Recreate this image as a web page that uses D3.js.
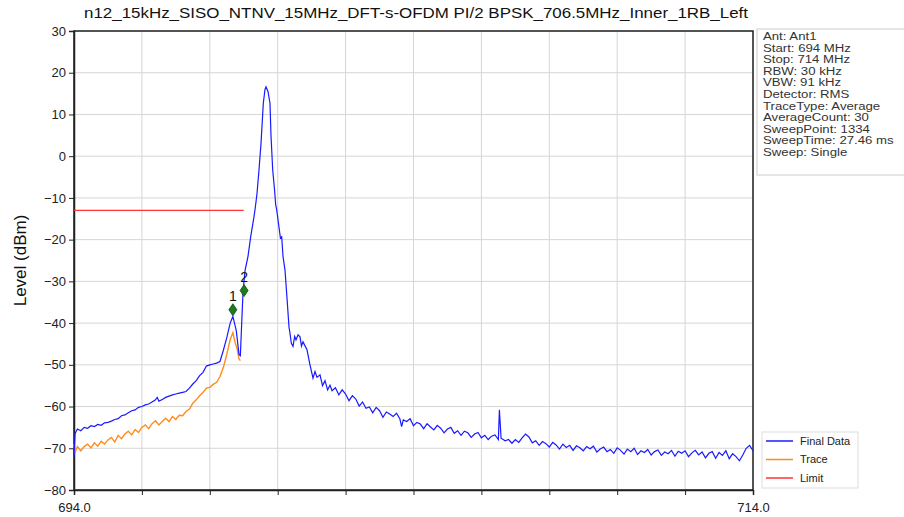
<!DOCTYPE html>
<html>
<head>
<meta charset="utf-8">
<script src="https://cdn.jsdelivr.net/npm/d3@7"></script>
<style>
  body { margin: 0; background: #fff; }
  text { font-family: "Liberation Sans", Arial, sans-serif; }
</style>
</head>
<body>
<div id="my_dataviz"></div>
<script>
var chartTitle = "n12_15kHz_SISO_NTNV_15MHz_DFT-s-OFDM PI/2 BPSK_706.5MHz_Inner_1RB_Left";

var yTicks = [30, 20, 10, 0, -10, -20, -30, -40, -50, -60, -70, -80];
var xTicks = [694, 696, 698, 700, 702, 704, 706, 708, 710, 712, 714];

var infoLines = ["Ant: Ant1", "Start: 694 MHz", "Stop: 714 MHz", "RBW: 30 kHz", "VBW: 91 kHz",
    "Detector: RMS", "TraceType: Average", "AverageCount: 30", "SweepPoint: 1334",
    "SweepTime: 27.46 ms", "Sweep: Single"];

// Final Data trace [MHz, dBm]
var finalData = [
    [694.00, -72.0], [694.03, -66.5], [694.1, -65.4], [694.2, -65.8], [694.3, -65.0], [694.4, -65.2],
    [694.5, -64.6], [694.6, -64.8], [694.7, -64.3], [694.8, -64.5], [694.9, -63.9], [695.0, -63.8],
    [695.1, -63.5], [695.2, -63.1], [695.3, -62.9], [695.4, -62.2], [695.5, -62.0], [695.6, -61.5],
    [695.7, -61.0], [695.8, -60.8], [695.9, -60.2], [696.0, -60.0], [696.1, -59.6], [696.2, -59.4],
    [696.3, -58.9], [696.4, -58.4], [696.45, -57.8], [696.5, -58.7], [696.6, -58.3], [696.7, -57.8],
    [696.8, -57.5], [696.9, -57.2], [697.0, -57.0], [697.1, -56.8], [697.2, -56.6], [697.3, -56.4],
    [697.4, -55.6], [697.5, -54.6], [697.6, -53.8], [697.7, -52.6], [697.8, -51.8], [697.9, -50.3],
    [698.0, -50.0], [698.1, -49.8], [698.2, -49.6], [698.3, -49.2], [698.4, -46.5], [698.5, -43.5],
    [698.6, -40.0], [698.68, -38.4], [698.78, -41.8], [698.86, -47.5], [698.9, -47.8], [698.95, -38.0],
    [698.98, -32.3], [699.04, -27.3], [699.125, -24.0], [699.205, -19.3], [699.272, -16.0],
    [699.30, -14.6], [699.331, -12.9], [699.39, -9.0], [699.449, -3.3], [699.508, 3.0],
    [699.576, 12.7], [699.626, 16.0], [699.655, 16.6], [699.714, 15.5], [699.773, 12.7],
    [699.802, 5.0], [699.853, -3.3], [699.906, -8.0], [699.94, -11.6], [699.971, -12.9],
    [700.038, -17.0], [700.08, -19.6], [700.118, -19.3], [700.156, -24.0], [700.215, -27.3],
    [700.274, -34.0], [700.333, -41.0], [700.362, -42.4], [700.40, -44.8], [700.451, -45.6],
    [700.50, -43.2], [700.539, -44.0], [700.60, -42.8], [700.657, -43.3], [700.70, -45.5],
    [700.745, -44.5], [700.863, -46.4], [700.951, -50.0], [701.04, -53.2], [701.10, -51.6],
    [701.158, -53.0], [701.246, -52.4], [701.32, -55.0], [701.393, -53.8], [701.47, -56.0],
    [701.541, -54.9], [701.6, -56.2], [701.7, -55.5], [701.8, -57.2], [701.9, -56.0],
    [702.0, -57.0], [702.1, -58.6], [702.2, -57.4], [702.3, -58.2], [702.4, -59.9], [702.5, -58.9],
    [702.6, -60.4], [702.7, -60.1], [702.8, -61.5], [702.9, -60.2], [703.0, -61.0], [703.1, -62.6],
    [703.2, -61.3], [703.3, -61.8], [703.4, -62.4], [703.5, -61.6], [703.6, -63.0], [703.65, -64.8],
    [703.7, -63.2], [703.8, -63.6], [703.9, -62.9], [704.0, -64.6], [704.1, -63.8], [704.2, -64.2],
    [704.3, -65.3], [704.4, -64.1], [704.5, -64.9], [704.6, -65.6], [704.7, -64.5], [704.8, -65.2],
    [704.9, -66.3], [705.0, -65.4], [705.1, -65.0], [705.2, -66.4], [705.3, -65.8], [705.4, -66.9],
    [705.5, -65.9], [705.6, -66.3], [705.7, -67.4], [705.8, -66.6], [705.9, -66.2], [706.0, -67.5],
    [706.1, -66.9], [706.2, -67.9], [706.3, -67.1], [706.4, -66.8], [706.5, -67.9], [706.53, -60.8],
    [706.58, -67.6], [706.7, -68.2], [706.8, -67.9], [706.9, -68.8], [707.0, -67.9], [707.1, -68.6],
    [707.2, -67.5], [707.3, -66.6], [707.4, -67.3], [707.5, -68.7], [707.6, -68.2], [707.7, -69.3],
    [707.8, -68.4], [707.9, -68.9], [708.0, -69.7], [708.1, -68.6], [708.2, -69.2], [708.3, -70.2],
    [708.4, -69.0], [708.5, -69.8], [708.6, -69.3], [708.7, -70.5], [708.8, -69.4], [708.9, -69.9],
    [709.0, -70.6], [709.1, -69.6], [709.2, -70.1], [709.3, -69.5], [709.4, -70.9], [709.5, -70.2],
    [709.6, -69.7], [709.7, -70.8], [709.8, -70.3], [709.9, -71.2], [710.0, -69.9], [710.1, -70.5],
    [710.2, -71.4], [710.3, -70.2], [710.4, -70.8], [710.5, -70.0], [710.6, -71.5], [710.7, -70.6],
    [710.8, -71.0], [710.9, -70.3], [711.0, -71.6], [711.1, -70.8], [711.2, -70.4], [711.3, -71.7],
    [711.4, -70.9], [711.5, -71.3], [711.6, -70.5], [711.7, -71.9], [711.8, -70.7], [711.9, -71.2],
    [712.0, -70.6], [712.1, -72.0], [712.2, -71.1], [712.3, -70.5], [712.4, -71.6], [712.5, -70.9],
    [712.6, -72.3], [712.7, -71.2], [712.8, -70.8], [712.9, -72.4], [713.0, -71.0], [713.1, -71.7],
    [713.2, -70.6], [713.3, -72.5], [713.4, -71.3], [713.5, -72.0], [713.6, -73.0], [713.7, -71.6],
    [713.8, -70.0], [713.9, -69.3], [714.0, -70.6]
];

// Trace (orange), only left of the carrier
var traceData = [
    [694.0, -69.0], [694.03, -71.0], [694.07, -70.2], [694.1, -69.6], [694.2, -70.6], [694.3, -69.6],
    [694.4, -69.0], [694.5, -69.9], [694.6, -68.7], [694.7, -69.5], [694.8, -68.3], [694.9, -69.0],
    [695.0, -68.0], [695.1, -67.4], [695.2, -68.5], [695.3, -66.9], [695.4, -67.7], [695.5, -66.6],
    [695.6, -65.9], [695.7, -66.8], [695.8, -65.5], [695.9, -66.2], [696.0, -65.0], [696.1, -64.4],
    [696.2, -65.3], [696.3, -64.1], [696.4, -63.4], [696.5, -64.4], [696.6, -63.6], [696.7, -62.8],
    [696.8, -63.6], [696.9, -62.4], [697.0, -63.1], [697.1, -62.1], [697.2, -62.2], [697.3, -61.2],
    [697.4, -60.6], [697.5, -59.2], [697.6, -58.4], [697.7, -57.4], [697.8, -56.6], [697.9, -55.6],
    [698.0, -55.4], [698.1, -54.7], [698.2, -54.2], [698.3, -52.8], [698.4, -50.6], [698.5, -47.5],
    [698.6, -44.0], [698.68, -42.3], [698.74, -44.5], [698.8, -46.0], [698.86, -48.6], [698.9, -49.0]
];

var limitData = [[694.0, -13], [699.0, -13]];

var markerNames = ["1", "2"];
var markerFreqs = [698.68, 699.01];
var markerLevels = [-36.8, -32.2];

var legendNames = ["Final Data", "Trace", "Limit"];
var legendColors = ["#1a1aff", "#ff8c1a", "#ff3333"];

// layout
var width = 904, height = 517;
var margin = { top: 31, right: 151, bottom: 27, left: 74 };

var svg = d3.select("#my_dataviz")
    .append("svg")
    .attr("width", width)
    .attr("height", height)
    .style("background", "#fff");

var x = d3.scaleLinear().domain([694, 714]).range([margin.left, width - margin.right]);
var y = d3.scaleLinear().domain([-80, 30]).range([height - margin.bottom, margin.top]);

// grid
svg.append("g")
    .selectAll("line.vgrid")
    .data(xTicks)
    .enter()
    .append("line")
    .attr("x1", function (d) { return x(d); })
    .attr("x2", function (d) { return x(d); })
    .attr("y1", y(30))
    .attr("y2", y(-80))
    .style("stroke", "#d6d6d6")
    .style("stroke-width", 1);

svg.append("g")
    .selectAll("line.hgrid")
    .data(yTicks)
    .enter()
    .append("line")
    .attr("x1", x(694))
    .attr("x2", x(714))
    .attr("y1", function (d) { return y(d); })
    .attr("y2", function (d) { return y(d); })
    .style("stroke", "#d6d6d6")
    .style("stroke-width", 1);

// axes
var xAxis = svg.append("g")
    .attr("transform", "translate(0," + y(-80) + ")")
    .call(d3.axisBottom(x)
        .tickValues(xTicks)
        .tickSizeOuter(0)
        .tickSize(5)
        .tickFormat(function (d) { return (d === 694 || d === 714) ? d3.format(".1f")(d) : ""; }));

var yAxis = svg.append("g")
    .attr("transform", "translate(" + x(694) + ",0)")
    .call(d3.axisLeft(y).tickValues(yTicks).tickSizeOuter(0).tickSize(5));

[xAxis, yAxis].forEach(function (ax) {
    ax.selectAll("text")
        .style("font-size", "13px")
        .style("fill", "#222");
    ax.selectAll("line").style("stroke", "#222");
    ax.select(".domain").style("stroke", "#222").style("stroke-width", 1.5);
});
xAxis.selectAll("text").attr("dy", "1.05em");

// frame top and right
svg.append("rect")
    .attr("x", x(694))
    .attr("y", y(30))
    .attr("width", x(714) - x(694))
    .attr("height", y(-80) - y(30))
    .style("fill", "none")
    .style("stroke", "#222")
    .style("stroke-width", 1.5);

var line = d3.line()
    .x(function (d) { return x(d[0]); })
    .y(function (d) { return y(d[1]); });

svg.append("path")
    .datum(traceData)
    .attr("d", line)
    .style("fill", "none")
    .style("stroke", legendColors[1])
    .style("stroke-width", 1.4);

svg.append("path")
    .datum(finalData)
    .attr("d", line)
    .style("fill", "none")
    .style("stroke", legendColors[0])
    .style("stroke-width", 1.2);

svg.append("path")
    .datum(limitData)
    .attr("d", line)
    .style("fill", "none")
    .style("stroke", legendColors[2])
    .style("stroke-width", 1.2);

// markers
var markers = svg.append("g")
    .selectAll("g")
    .data(markerNames)
    .enter()
    .append("g")
    .attr("transform", function (d, i) {
        return "translate(" + x(markerFreqs[i]) + "," + y(markerLevels[i]) + ")";
    });

markers.append("path")
    .attr("d", "M0,-6L4,0L0,6L-4,0Z")
    .style("fill", "#1d7a1d")
    .style("stroke", "#0f4f0f")
    .style("stroke-width", 0.8);

markers.append("text")
    .attr("y", -9)
    .attr("text-anchor", "middle")
    .style("font-size", "14px")
    .style("fill", "#111")
    .text(function (d) { return d; });

// title and y label
svg.append("text")
    .attr("x", 416)
    .attr("y", 18)
    .attr("text-anchor", "middle")
    .attr("textLength", 664)
    .attr("lengthAdjust", "spacingAndGlyphs")
    .style("font-size", "15px")
    .style("fill", "#111")
    .text(chartTitle);

svg.append("text")
    .attr("transform", "translate(26," + ((y(30) + y(-80)) / 2) + ") rotate(-90)")
    .attr("text-anchor", "middle")
    .style("font-size", "17px")
    .style("fill", "#111")
    .text("Level (dBm)");

// info box
var info = svg.append("g").attr("transform", "translate(757,29)");
info.append("rect")
    .attr("width", 150)
    .attr("height", 146)
    .style("fill", "#fff")
    .style("stroke", "#ccc");
info.append("g")
    .attr("transform", "translate(6,0) scale(1.2,1)")
    .selectAll("text")
    .data(infoLines)
    .enter()
    .append("text")
    .attr("y", function (d, i) { return 11 + i * 11.6; })
    .style("font-size", "11px")
    .style("fill", "#333")
    .text(function (d) { return d; });

// legend
var legend = svg.append("g").attr("transform", "translate(762,432)");
legend.append("rect")
    .attr("width", 96)
    .attr("height", 56)
    .style("fill", "#fff")
    .style("stroke", "#ddd");
var items = legend.selectAll("g")
    .data(legendNames)
    .enter()
    .append("g")
    .attr("transform", function (d, i) { return "translate(0," + (9 + i * 18.5) + ")"; });
items.append("line")
    .attr("x1", 4)
    .attr("x2", 31)
    .style("stroke", function (d, i) { return legendColors[i]; })
    .style("stroke-width", 1.5);
items.append("text")
    .attr("x", 38)
    .attr("dy", "0.35em")
    .style("font-size", "11px")
    .style("fill", "#222")
    .text(function (d) { return d; });
</script>
</body>
</html>
